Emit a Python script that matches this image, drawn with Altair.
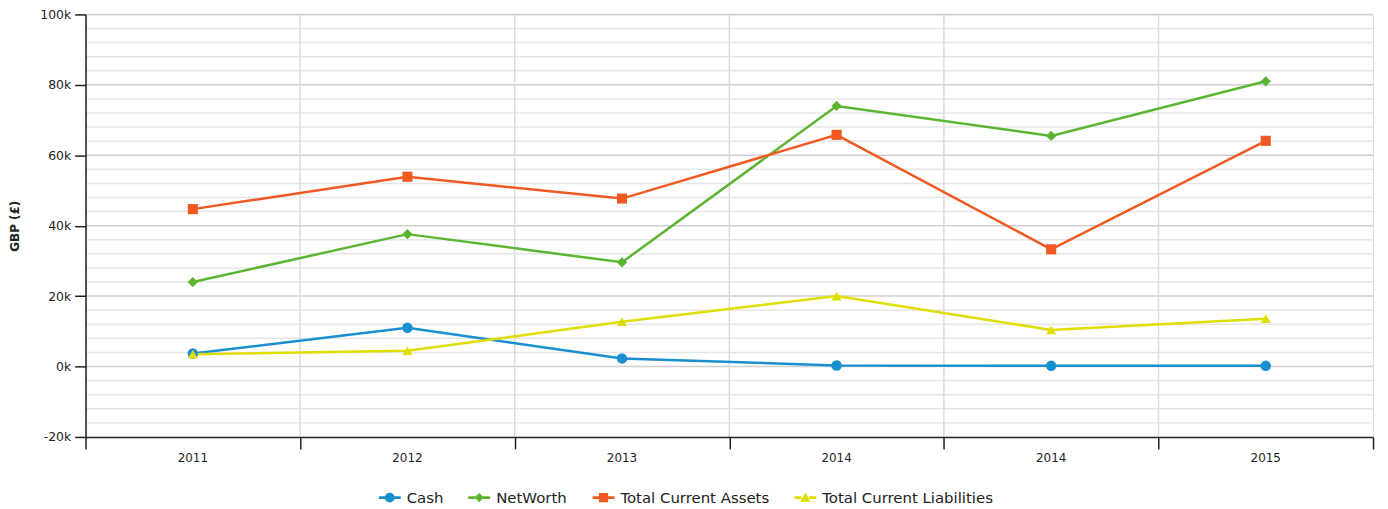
import altair as alt
import pandas as pd

# ---- data ----
years = ["2011", "2012", "2013", "2014", "2014", "2015"]
series_names = ["Cash", "NetWorth", "Total Current Assets", "Total Current Liabilities"]
cash = [3700, 11000, 2300, 300, 200, 200]
networth = [24000, 37600, 29600, 74000, 65500, 81000]
assets = [44700, 53900, 47700, 65800, 33300, 64100]
liabilities = [3500, 4500, 12700, 20000, 10400, 13600]

colors = ["#1a8fd0", "#5cb531", "#f05a22", "#dede00"]
point_shapes = ["circle", "diamond", "square", "triangle-up"]
point_sizes = [110, 100, 130, 150]

y_major = [0, 20000, 40000, 60000, 80000, 100000]
y_minor = [v for v in range(-16000, 100000, 4000) if v % 20000 != 0]
y_ticks = [-20000, 0, 20000, 40000, 60000, 80000, 100000]
x_bounds = [-0.5, 0.5, 1.5, 2.5, 3.5, 4.5, 5.5]
x_inner = [0.5, 1.5, 2.5, 3.5, 4.5]

# legend symbols: line stub + marker
stub = "M-1,-0.12H-0.35V0.12H-1Z M0.35,-0.12H1V0.12H0.35Z "
legend_paths = [
    stub + "M0.45,0A0.45,0.45,0,1,1,-0.45,0A0.45,0.45,0,1,1,0.45,0Z",
    stub + "M0,-0.42L0.42,0L0,0.42L-0.42,0Z",
    stub + "M-0.42,-0.42H0.42V0.42H-0.42Z",
    stub + "M0,-0.46L0.48,0.38H-0.48Z",
]

rows = []
for name, vals in zip(series_names, [cash, networth, assets, liabilities]):
    for i, v in enumerate(vals):
        rows.append({"series": name, "idx": i, "year": years[i], "value": v})
df = pd.DataFrame(rows)
labels_df = pd.DataFrame({"idx": list(range(len(years))), "year": years})

W, H = 1295, 425
FONT = "DejaVu Sans"

xscale = alt.Scale(domain=[-0.5, 5.5], nice=False, zero=False)
yscale = alt.Scale(domain=[-20000, 100000], nice=False, zero=False)
cscale = alt.Scale(domain=series_names, range=colors)

x_axis = alt.Axis(values=x_bounds, labels=False, grid=False, tickSize=12,
                  tickColor="#222", domainColor="#222", domainWidth=1.5,
                  tickWidth=1.5, title=None, zindex=1)
y_axis = alt.Axis(values=y_ticks, grid=False, tickSize=11, tickColor="#222",
                  domainColor="#222", domainWidth=1.5, tickWidth=1.5,
                  labelExpr="(datum.value/1000) + 'k'",
                  labelFontSize=12.5, labelColor="#222", labelPadding=4,
                  title="GBP (£)", titleFontWeight="bold", titleFontSize=12,
                  titleColor="#222", titleX=-71, titleY=H / 2, titleAngle=270,
                  titleAlign="center", titleBaseline="middle", zindex=1)

minor = alt.Chart(pd.DataFrame({"v": y_minor})).mark_rule(
    color="#e6e6e6", strokeWidth=1.5).encode(
    y=alt.Y("v:Q", scale=yscale, axis=y_axis))
major = alt.Chart(pd.DataFrame({"v": y_major})).mark_rule(
    color="#d0d0d0", strokeWidth=1.5).encode(
    y=alt.Y("v:Q", scale=yscale, axis=y_axis))
vgrid = alt.Chart(pd.DataFrame({"b": x_inner})).mark_rule(
    color="#dcdcdc", strokeWidth=1.5).encode(
    x=alt.X("b:Q", scale=xscale, axis=x_axis))

lines = alt.Chart(df).mark_line(strokeWidth=2.5).encode(
    x=alt.X("idx:Q", scale=xscale, axis=x_axis),
    y=alt.Y("value:Q", scale=yscale, axis=y_axis),
    color=alt.Color("series:N", scale=cscale, legend=None),
    detail="series:N",
)

points = alt.Chart(df).mark_point(filled=True, opacity=1).encode(
    x=alt.X("idx:Q", scale=xscale, axis=x_axis),
    y=alt.Y("value:Q", scale=yscale, axis=y_axis),
    color=alt.Color("series:N", scale=cscale, legend=None),
    shape=alt.Shape("series:N", scale=alt.Scale(domain=series_names, range=point_shapes), legend=None),
    size=alt.Size("series:N", scale=alt.Scale(domain=series_names, range=point_sizes), legend=None),
)

year_text = alt.Chart(labels_df).mark_text(
    font=FONT, fontSize=12, color="#222", baseline="middle").encode(
    x=alt.X("idx:Q", scale=xscale, axis=x_axis),
    y=alt.value(H + 21),
    text="year:N",
)

legend_layer = alt.Chart(df).transform_filter("false").mark_point(filled=True, opacity=1).encode(
    color=alt.Color("series:N", scale=cscale, legend=alt.Legend(title=None)),
    shape=alt.Shape("series:N", scale=alt.Scale(domain=series_names, range=legend_paths),
                    legend=alt.Legend(title=None)),
)

chart = alt.layer(minor, major, vgrid, lines, points, year_text, legend_layer).resolve_scale(
    shape="independent"
).resolve_legend(color="independent", shape="independent").properties(
    width=W, height=H,
    autosize=alt.AutoSizeParams(type="none"),
    padding={"left": 78, "top": 5, "right": 7, "bottom": 70},
).configure_view(stroke=None).configure(font=FONT).configure_legend(
    orient="none", legendX=295, legendY=475, direction="horizontal", columns=4,
    labelFontSize=15, labelColor="#222", labelFont=FONT, symbolSize=484,
    symbolStrokeWidth=0, labelOffset=6, columnPadding=25, symbolOpacity=1,
    labelLimit=300,
).configure_axis(labelFont=FONT, titleFont=FONT)

chart.save("out.html", embed_options={"renderer": "svg", "actions": False})
